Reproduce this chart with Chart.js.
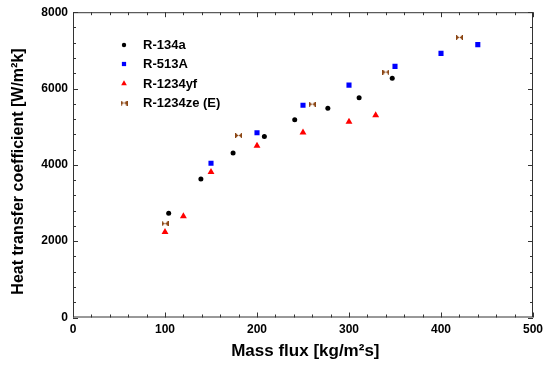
<!DOCTYPE html>
<html>
<head>
<meta charset="utf-8">
<script src="https://cdn.jsdelivr.net/npm/chart.js@4.4.1/dist/chart.umd.min.js"></script>
<style>
  html, body { margin: 0; padding: 0; background: #fff; }
  #wrap { width: 550px; height: 367px; position: relative; }
</style>
</head>
<body>
<div id="wrap"><canvas id="htc"></canvas></div>
<script>
// data: mass flux [kg/m2s] and HTC [W/m2k]
const r134aX = [104, 139, 174, 208, 241, 277, 311, 347];
const r134aY = [2730, 3630, 4310, 4740, 5180, 5480, 5760, 6270];
const r513aX = [150, 200, 250, 300, 350, 400, 440];
const r513aY = [4040, 4840, 5560, 6090, 6580, 6920, 7150];
const r1234yfX = [100, 120, 150, 200, 250, 300, 329];
const r1234yfY = [2240, 2650, 3810, 4500, 4850, 5130, 5300];
const r1234zeX = [100, 180, 260, 340, 420];
const r1234zeY = [2460, 4770, 5590, 6430, 7340];

const xTicks = [0, 100, 200, 300, 400, 500];
const yTicks = [0, 2000, 4000, 6000, 8000];

const FONT = '"Liberation Sans", Arial, sans-serif';
const BROWN = '#8B4513';

// sideways bow-tie marker used for R-1234ze (E)
const bow = document.createElement('canvas');
bow.width = 7; bow.height = 5;
(() => {
  const c = bow.getContext('2d');
  c.fillStyle = BROWN;
  c.beginPath();
  c.moveTo(0, 0); c.lineTo(3.5, 2.5); c.lineTo(0, 5); c.closePath();
  c.moveTo(7, 0); c.lineTo(3.5, 2.5); c.lineTo(7, 5); c.closePath();
  c.fill();
  c.fillRect(0, 0, 1.2, 5);
  c.fillRect(5.8, 0, 1.2, 5);
})();

const pts = (xs, ys) => xs.map((x, i) => ({ x, y: ys[i] }));

const datasets = [
  { label: 'R-134a', data: pts(r134aX, r134aY), pointStyle: 'circle', pointRadius: 2.5,
    backgroundColor: '#000', borderColor: '#000', borderWidth: 0 },
  { label: 'R-513A', data: pts(r513aX, r513aY), pointStyle: 'rect', pointRadius: 3.6,
    backgroundColor: '#0000FF', borderColor: '#0000FF', borderWidth: 0 },
  { label: 'R-1234yf', data: pts(r1234yfX, r1234yfY), pointStyle: 'triangle', pointRadius: 4,
    backgroundColor: '#FF0000', borderColor: '#FF0000', borderWidth: 0 },
  { label: 'R-1234ze (E)', data: pts(r1234zeX, r1234zeY), pointStyle: bow, pointRadius: 4,
    backgroundColor: BROWN, borderColor: BROWN, borderWidth: 0 },
];

// box frame with inward ticks on all four sides
const frame = {
  id: 'frame',
  afterDatasetsDraw(chart) {
    const { ctx, chartArea: a, scales: { x, y } } = chart;
    ctx.save();
    ctx.strokeStyle = '#333';
    ctx.lineWidth = 1;
    ctx.strokeRect(a.left + 0.5, a.top + 0.5, a.right - a.left - 1, a.bottom - a.top - 1);
    ctx.beginPath();
    for (let v = 0; v <= 500; v += 20) {
      const px = Math.round(x.getPixelForValue(v)) + 0.5;
      const len = v % 100 === 0 ? 5 : 3;
      ctx.moveTo(px, a.bottom); ctx.lineTo(px, a.bottom - len);
      ctx.moveTo(px, a.top); ctx.lineTo(px, a.top + len);
    }
    for (let v = 0; v <= 8000; v += 400) {
      const py = Math.round(y.getPixelForValue(v)) + 0.5;
      const len = v % 2000 === 0 ? 5 : 3;
      ctx.moveTo(a.left, py); ctx.lineTo(a.left + len, py);
      ctx.moveTo(a.right, py); ctx.lineTo(a.right - len, py);
    }
    ctx.stroke();
    ctx.restore();
  }
};

// legend sitting inside the plot, upper left
const insideLegend = {
  id: 'insideLegend',
  afterDatasetsDraw(chart) {
    const { ctx } = chart;
    const rows = [45, 64, 83.5, 103];
    ctx.save();
    ctx.font = 'bold 13px ' + FONT;
    ctx.textBaseline = 'middle';
    ctx.textAlign = 'left';
    chart.data.datasets.forEach((ds, i) => {
      ctx.fillStyle = ds.backgroundColor;
      ctx.strokeStyle = ds.borderColor;
      ctx.lineWidth = 0;
      const r = ds.pointStyle === 'circle' ? 2.2 : ds.pointStyle === 'rect' ? 3 : 3.3;
      Chart.helpers.drawPoint(ctx, { pointStyle: ds.pointStyle, radius: r, rotation: 0, borderWidth: 0 }, 124, rows[i]);
      ctx.fillStyle = '#000';
      ctx.fillText(ds.label, 143, rows[i] + 0.5);
    });
    ctx.restore();
  }
};

new Chart(document.getElementById('htc'), {
  type: 'scatter',
  data: { datasets },
  options: {
    responsive: true,
    maintainAspectRatio: false,
    animation: false,
    layout: { padding: { top: 11, right: 17, left: 0, bottom: 0 } },
    plugins: { legend: { display: false }, tooltip: { enabled: false } },
    scales: {
      x: {
        type: 'linear', min: 0, max: 500,
        afterBuildTicks: s => { s.ticks = xTicks.map(v => ({ value: v })); },
        afterFit: s => { s.height = 49.5; },
        grid: { display: false, drawTicks: false },
        border: { display: false },
        ticks: { color: '#000', padding: 5, maxRotation: 0, callback: v => String(v),
          font: { family: FONT, size: 12, weight: 'bold' } },
        title: { display: true, text: ' Mass flux [kg/m²s]', color: '#000',
          padding: { top: 0, bottom: 5 }, font: { family: FONT, size: 17, weight: 'bold' } },
      },
      y: {
        type: 'linear', min: 0, max: 8000,
        afterBuildTicks: s => { s.ticks = yTicks.map(v => ({ value: v })); },
        afterFit: s => { s.width = 73; },
        grid: { display: false, drawTicks: false },
        border: { display: false },
        ticks: { color: '#000', padding: 5, callback: v => String(v),
          font: { family: FONT, size: 12, weight: 'bold' } },
        title: { display: true, text: 'Heat transfer coefficient [W/m²k]   ', color: '#000',
          padding: { top: 9, bottom: 0 }, font: { family: FONT, size: 16, weight: 'bold' } },
      },
    },
  },
  plugins: [frame, insideLegend],
});
</script>
</body>
</html>
